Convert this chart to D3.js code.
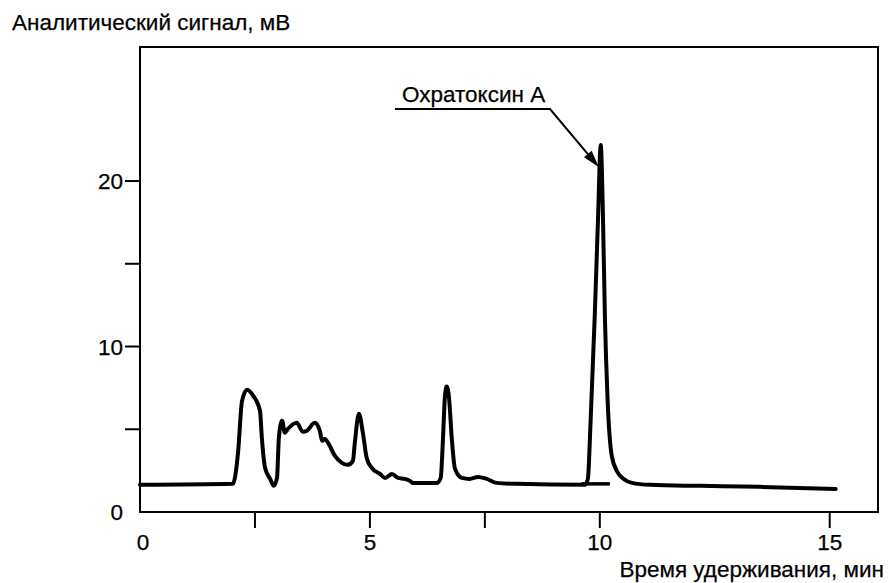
<!DOCTYPE html>
<html><head><meta charset="utf-8">
<script src="https://cdn.jsdelivr.net/npm/d3@7"></script>
<style>
html,body{margin:0;padding:0;background:#fff;}
svg text{font-family:"Liberation Sans",Arial,Helvetica,sans-serif;fill:#000;stroke:#000;stroke-width:0.25px;}
</style></head>
<body>
<svg id="chart" width="888" height="583"></svg>
<script>
// Retention time (min) and signal (mV)
const timeMin = [0.00, 2.02, 2.13, 2.22, 2.33, 2.46, 2.61, 2.65, 2.72, 2.83, 2.91, 2.98, 3.02, 3.09, 3.15, 3.22, 3.41, 3.54, 3.63, 3.80, 3.91, 3.96, 4.02, 4.09, 4.24, 4.39, 4.52, 4.63, 4.67, 4.76, 4.85, 4.93, 5.04, 5.22, 5.33, 5.48, 5.61, 5.76, 5.87, 5.93, 6.46, 6.54, 6.59, 6.63, 6.67, 6.72, 6.78, 6.85, 7.00, 7.17, 7.35, 7.54, 7.76, 8.20, 9.67, 9.74, 9.80, 9.89, 9.96, 10.02, 10.07, 10.11, 10.17, 10.26, 10.37, 10.52, 10.70, 11.09, 12.17, 13.48, 15.13];
const signalMV = [1.64, 1.70, 3.52, 6.73, 7.39, 7.03, 6.12, 4.48, 2.67, 2.00, 1.58, 2.06, 4.48, 5.52, 4.79, 5.03, 5.39, 4.85, 4.91, 5.39, 4.91, 4.30, 4.42, 4.18, 3.39, 2.97, 2.85, 3.09, 4.12, 5.94, 4.73, 3.27, 2.67, 2.30, 2.06, 2.30, 2.06, 2.00, 1.88, 1.76, 1.76, 2.06, 4.48, 6.91, 7.58, 6.91, 4.48, 2.61, 2.06, 2.00, 2.12, 2.00, 1.76, 1.70, 1.64, 2.00, 5.52, 11.88, 17.64, 22.18, 17.64, 11.88, 6.73, 3.39, 2.48, 2.00, 1.76, 1.64, 1.58, 1.52, 1.39];
// Tangent baseline drawn under the ochratoxin A peak
const baseTime = [9.60, 10.22];
const baseSignal = [1.70, 1.70];

const xTicks = [2.5, 5, 7.5, 10, 15];
const xTickLabels = [0, 5, 10, 15];
const yTicks = [5, 10, 15, 20];
const yTickLabels = [0, 10, 20];

const yTitle = "Аналитический сигнал, мВ";
const xTitle = "Время удерживания, мин";
const peakLabel = "Охратоксин А";
const peakTime = 10.02, peakSignal = 22.18;

const svg = d3.select("#chart");
const L = 140, R = 878, T = 47, B = 512;
const x = d3.scaleLinear().domain([0, 16.05]).range([L, R]);
const y = d3.scaleLinear().domain([0, 28.1]).range([B, T]);
const FS = 22.5;

// frame
svg.append("rect").attr("x", L).attr("y", T).attr("width", R - L).attr("height", B - T)
  .attr("fill", "none").attr("stroke", "#000").attr("stroke-width", 2);

// x ticks
svg.append("g").selectAll("line").data(xTicks).join("line")
  .attr("x1", d => x(d)).attr("x2", d => x(d)).attr("y1", B).attr("y2", B + 16)
  .attr("stroke", "#000").attr("stroke-width", 2);
svg.append("g").selectAll("text").data(xTickLabels).join("text")
  .attr("x", d => x(d) + (d === 0 ? 3 : 0)).attr("y", 550)
  .attr("text-anchor", "middle").attr("font-size", FS).text(d => d);

// y ticks
svg.append("g").selectAll("line").data(yTicks).join("line")
  .attr("x1", L - 15).attr("x2", L).attr("y1", d => y(d)).attr("y2", d => y(d))
  .attr("stroke", "#000").attr("stroke-width", 2);
svg.append("g").selectAll("text").data(yTickLabels).join("text")
  .attr("x", 123).attr("y", d => y(d)).attr("dy", "0.36em")
  .attr("text-anchor", "end").attr("font-size", FS).text(d => d);

// titles
svg.append("text").attr("x", 12).attr("y", 30).attr("font-size", FS).text(yTitle);
svg.append("text").attr("x", 884).attr("y", 577).attr("text-anchor", "end").attr("font-size", FS).text(xTitle);

// chromatogram
const pts = timeMin.map((t, i) => [t, signalMV[i]]);
const line = d3.line().x(d => x(d[0])).y(d => y(d[1])).curve(d3.curveMonotoneX);
svg.append("path").datum(pts).attr("d", line)
  .attr("fill", "none").attr("stroke", "#000").attr("stroke-width", 4)
  .attr("stroke-linejoin", "round").attr("stroke-linecap", "round");
const bpts = baseTime.map((t, i) => [t, baseSignal[i]]);
svg.append("path").datum(bpts).attr("d", d3.line().x(d => x(d[0])).y(d => y(d[1])))
  .attr("fill", "none").attr("stroke", "#000").attr("stroke-width", 3.5);

// annotation
const tipX = x(peakTime) - 2, tipY = y(peakSignal) + 22;
const ulx1 = 395, ulx2 = 550, uly = 109;
svg.append("text").attr("x", 402).attr("y", 102).attr("font-size", FS).text(peakLabel);
svg.append("polyline").attr("points", `${ulx1},${uly} ${ulx2},${uly} ${tipX - 6},${tipY - 7}`)
  .attr("fill", "none").attr("stroke", "#000").attr("stroke-width", 2);
const ang = Math.atan2(tipY - uly, tipX - ulx2);
const hl = 17, hw = 5;
const bx = tipX - hl * Math.cos(ang), by = tipY - hl * Math.sin(ang);
const px = -Math.sin(ang) * hw, py = Math.cos(ang) * hw;
svg.append("polygon").attr("points", `${tipX},${tipY} ${bx + px},${by + py} ${bx - px},${by - py}`)
  .attr("fill", "#000");
</script>
</body></html>
